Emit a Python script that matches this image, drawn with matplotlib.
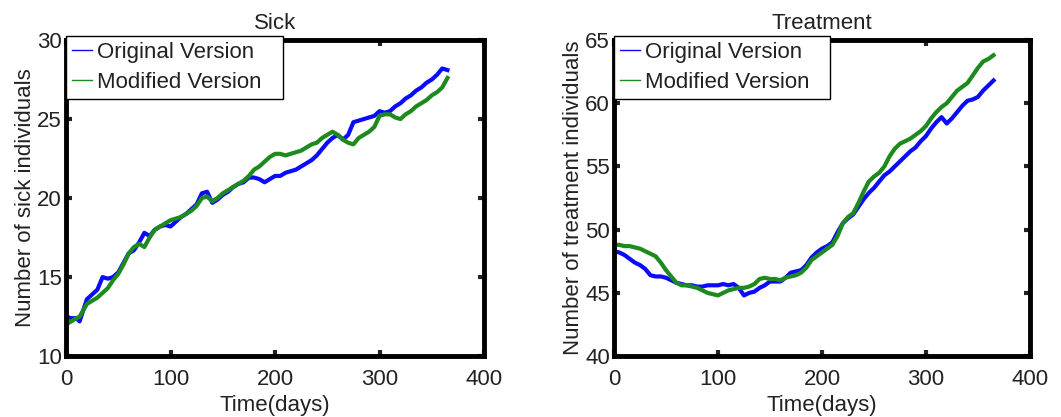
import matplotlib.pyplot as plt
from matplotlib.lines import Line2D

plt.rcParams['font.family'] = ['Liberation Sans', 'DejaVu Sans']

# Sick panel
sick_days = [0, 5, 10, 13, 20, 25, 30, 35, 40, 45, 50, 55, 60, 65, 70, 75, 80, 85, 90, 95,
             100, 105, 110, 115, 120, 125, 130, 135, 140, 145, 150, 155, 160, 165, 170, 175,
             180, 185, 190, 195, 200, 205, 210, 215, 220, 225, 230, 235, 240, 245, 250, 255,
             260, 265, 270, 275, 280, 285, 290, 295, 300, 305, 310, 315, 320, 325, 330, 335,
             340, 345, 350, 355, 360, 365]
sick_orig = [12.5, 12.4, 12.4, 12.2, 13.6, 13.9, 14.2, 15.0, 14.9, 15.0, 15.3, 15.9, 16.5, 16.7,
             17.2, 17.8, 17.6, 18.0, 18.2, 18.3, 18.2, 18.5, 18.8, 19.0, 19.3, 19.6, 20.3, 20.4,
             19.7, 19.9, 20.2, 20.4, 20.7, 20.9, 21.0, 21.3, 21.3, 21.2, 21.0, 21.2, 21.4, 21.4,
             21.6, 21.7, 21.8, 22.0, 22.2, 22.4, 22.7, 23.1, 23.5, 23.8, 24.0, 23.7, 24.0, 24.8,
             24.9, 25.0, 25.1, 25.2, 25.5, 25.4, 25.5, 25.8, 26.0, 26.3, 26.5, 26.8, 27.0, 27.3,
             27.5, 27.8, 28.2, 28.1]
sick_mod = [12.0, 12.2, 12.4, 12.5, 13.3, 13.5, 13.7, 14.0, 14.3, 14.8, 15.2, 15.8, 16.5, 16.9,
            17.1, 16.9, 17.5, 18.0, 18.2, 18.4, 18.6, 18.7, 18.8, 19.0, 19.2, 19.5, 20.0, 20.1,
            19.8, 20.0, 20.3, 20.5, 20.7, 20.9, 21.1, 21.4, 21.8, 22.0, 22.3, 22.6, 22.8, 22.8,
            22.7, 22.8, 22.9, 23.0, 23.2, 23.4, 23.5, 23.8, 24.0, 24.2, 24.0, 23.7, 23.5, 23.4,
            23.8, 24.0, 24.2, 24.5, 25.2, 25.3, 25.3, 25.1, 25.0, 25.3, 25.5, 25.8, 26.0, 26.2,
            26.5, 26.7, 27.0, 27.6]

# Treatment panel
treat_days = [0, 5, 10, 15, 20, 25, 30, 35, 40, 45, 50, 55, 60, 65, 70, 75, 80, 85, 90, 95,
              100, 105, 110, 115, 120, 125, 130, 135, 140, 145, 150, 155, 160, 165, 170, 175,
              180, 185, 190, 195, 200, 205, 210, 215, 220, 225, 230, 235, 240, 245, 250, 255,
              260, 265, 270, 275, 280, 285, 290, 295, 300, 305, 310, 315, 320, 325, 330, 335,
              340, 345, 350, 355, 360, 365]
treat_orig = [48.3, 48.2, 48.0, 47.7, 47.4, 47.2, 46.9, 46.4, 46.3, 46.3, 46.2, 46.0, 45.8, 45.7,
              45.6, 45.6, 45.5, 45.5, 45.6, 45.6, 45.6, 45.7, 45.6, 45.7, 45.4, 44.8, 45.0, 45.1,
              45.4, 45.6, 45.9, 45.9, 45.9, 46.2, 46.6, 46.7, 46.8, 47.2, 47.8, 48.2, 48.5, 48.7,
              49.0, 49.8, 50.5, 50.9, 51.2, 51.8, 52.4, 52.9, 53.3, 53.8, 54.3, 54.6, 55.0, 55.4,
              55.8, 56.2, 56.5, 57.0, 57.4, 58.0, 58.5, 58.9, 58.4, 58.8, 59.3, 59.8, 60.2, 60.3,
              60.5, 61.0, 61.4, 61.8]
treat_mod = [48.8, 48.8, 48.7, 48.7, 48.6, 48.5, 48.3, 48.1, 47.9, 47.4, 46.8, 46.3, 45.8, 45.6,
             45.6, 45.5, 45.4, 45.2, 45.0, 44.9, 44.8, 45.0, 45.2, 45.3, 45.4, 45.4, 45.5, 45.7,
             46.1, 46.2, 46.1, 46.1, 46.0, 46.2, 46.3, 46.4, 46.6, 47.0, 47.6, 47.9, 48.2, 48.5,
             48.8, 49.5, 50.5, 51.0, 51.3, 52.1, 53.0, 53.8, 54.2, 54.5, 55.0, 55.8, 56.4, 56.8,
             57.0, 57.2, 57.5, 57.8, 58.2, 58.8, 59.3, 59.7, 60.0, 60.5, 61.0, 61.3, 61.6, 62.2,
             62.8, 63.3, 63.5, 63.8]

blue = '#0a0aff'
green = '#1e8a1e'
fs = 16

fig = plt.figure(figsize=(10.61, 4.17), dpi=100)
ax1 = fig.add_axes([0.0622, 0.146, 0.394, 0.758])
ax2 = fig.add_axes([0.5787, 0.146, 0.392, 0.758])

panels = [
    (ax1, sick_days, sick_orig, sick_mod, 'Sick', 'Number of sick individuals', (10, 30), [10, 15, 20, 25, 30]),
    (ax2, treat_days, treat_orig, treat_mod, 'Treatment', 'Number of treatment individuals', (40, 65), [40, 45, 50, 55, 60, 65]),
]

for ax, days, orig, mod, title, ylabel, ylim, yticks in panels:
    ax.plot(days, orig, color=blue, lw=3)
    ax.plot(days, mod, color=green, lw=3)
    ax.set_xlim(0, 400)
    ax.set_ylim(*ylim)
    ax.set_xticks([0, 100, 200, 300, 400])
    ax.set_yticks(yticks)
    ax.tick_params(direction='in', length=4, width=3, top=True, right=True,
                   labelsize=fs, colors='#222222')
    ax.tick_params(axis='x', pad=9)
    ax.tick_params(axis='y', pad=3)
    for s in ax.spines.values():
        s.set_linewidth(3.5)
    ax.set_title(title, fontsize=fs, pad=8, color='#222222')
    ax.set_xlabel('Time(days)', fontsize=fs, labelpad=4, color='#222222')
    ax.set_ylabel(ylabel, fontsize=fs, labelpad=1, color='#222222')
    handles = [Line2D([], [], color=blue, lw=1), Line2D([], [], color=green, lw=1)]
    leg = ax.legend(handles, ['Original Version', 'Modified Version'], loc='upper left',
                    bbox_to_anchor=(0.0, 1.014, 0.52, 0), mode='expand', borderaxespad=0,
                    fontsize=fs, handlelength=0.9, handletextpad=0.2, borderpad=0.28,
                    labelspacing=0.42, fancybox=False, framealpha=1, edgecolor='black')
    leg.get_frame().set_linewidth(1)
    for t in leg.get_texts():
        t.set_color('#222222')

fig.savefig('out.png', dpi=100)
